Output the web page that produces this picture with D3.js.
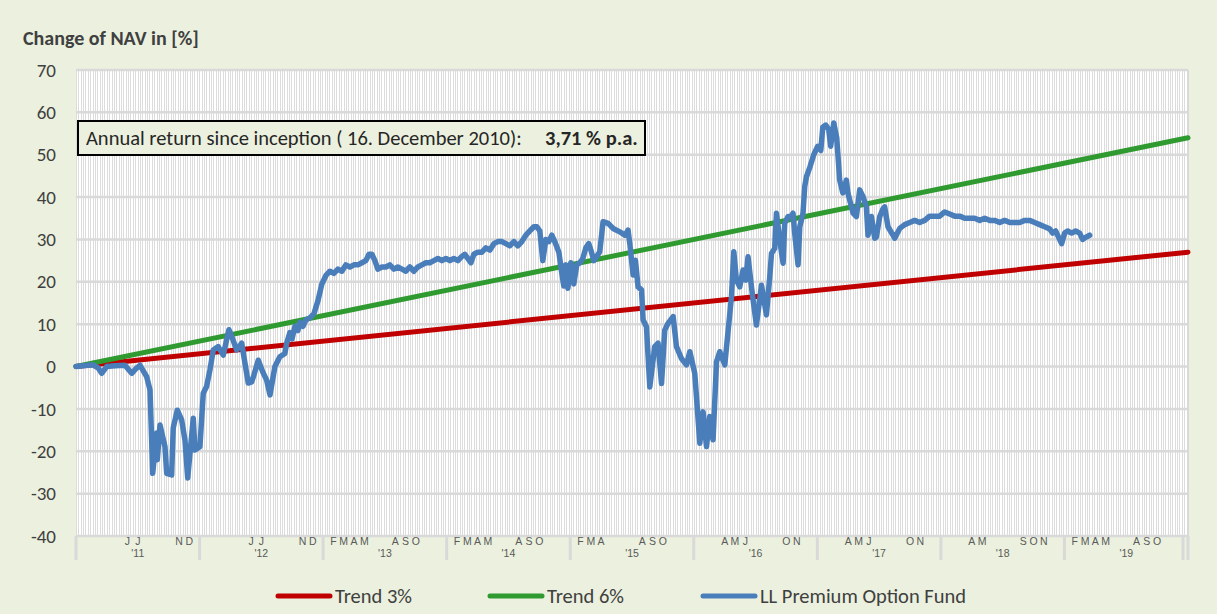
<!DOCTYPE html>
<html>
<head>
<meta charset="utf-8">
<script src="https://cdn.jsdelivr.net/npm/d3@7/dist/d3.min.js"></script>
<style>
  body { margin: 0; background: #EBF1DE; }
  svg { display: block; font-family: Carlito, Lato, sans-serif; }
</style>
</head>
<body>
<div id="chart"></div>
<script>
// ---- data ----
var yTicks = [70, 60, 50, 40, 30, 20, 10, 0, -10, -20, -30, -40];
var years = [2011, 2012, 2013, 2014, 2015, 2016, 2017, 2018, 2019];
var yearLabels = ["'11", "'12", "'13", "'14", "'15", "'16", "'17", "'18", "'19"];
var monthInitials = "JFMAMJJASOND";
// which month initials Excel managed to print for each year (0 = Jan)
var monthsShown = [
  [5, 6, 10, 11],
  [5, 6, 10, 11],
  [1, 2, 3, 4, 7, 8, 9],
  [1, 2, 3, 4, 7, 8, 9],
  [1, 2, 3, 7, 8, 9],
  [3, 4, 5, 9, 10],
  [3, 4, 5, 9, 10],
  [3, 4, 8, 9, 10],
  [1, 2, 3, 4, 7, 8, 9]
];

var trendTime = [2011, 2020];
var trend3 = [0, 27];
var trend6 = [0, 54];

// fund NAV change, time in decimal years
var fundTime = [
  2011.000, 2011.138, 2011.178, 2011.208, 2011.248, 2011.316, 2011.396, 2011.451, 2011.485, 2011.518,
  2011.572, 2011.599, 2011.621, 2011.653, 2011.658, 2011.680, 2011.720, 2011.734, 2011.774, 2011.787,
  2011.820, 2011.855, 2011.882, 2011.904, 2011.949, 2011.963, 2012.003, 2012.030, 2012.057, 2012.084,
  2012.111, 2012.151, 2012.192, 2012.219, 2012.238, 2012.262, 2012.300, 2012.341, 2012.394, 2012.422,
  2012.440, 2012.475, 2012.515, 2012.543, 2012.570, 2012.610, 2012.650, 2012.691, 2012.705, 2012.731,
  2012.748, 2012.772, 2012.796, 2012.812, 2012.837, 2012.861, 2012.893, 2012.926, 2012.958, 2012.990,
  2013.023, 2013.055, 2013.087, 2013.120, 2013.152, 2013.184, 2013.217, 2013.249, 2013.282, 2013.314,
  2013.346, 2013.371, 2013.395, 2013.419, 2013.443, 2013.476, 2013.508, 2013.540, 2013.573, 2013.605,
  2013.638, 2013.670, 2013.702, 2013.735, 2013.767, 2013.799, 2013.832, 2013.864, 2013.896, 2013.929,
  2013.961, 2013.994, 2014.026, 2014.058, 2014.091, 2014.123, 2014.147, 2014.172, 2014.196, 2014.220,
  2014.252, 2014.285, 2014.317, 2014.350, 2014.382, 2014.414, 2014.447, 2014.479, 2014.511, 2014.544,
  2014.576, 2014.608, 2014.641, 2014.673, 2014.706, 2014.730, 2014.754, 2014.778, 2014.803, 2014.827,
  2014.851, 2014.875, 2014.908, 2014.932, 2014.948, 2014.964, 2014.981, 2015.005, 2015.029, 2015.053,
  2015.078, 2015.102, 2015.126, 2015.150, 2015.167, 2015.191, 2015.215, 2015.239, 2015.266, 2015.307,
  2015.347, 2015.401, 2015.442, 2015.468, 2015.482, 2015.509, 2015.528, 2015.549, 2015.577, 2015.590,
  2015.617, 2015.644, 2015.684, 2015.711, 2015.739, 2015.765, 2015.792, 2015.833, 2015.860, 2015.900,
  2015.941, 2015.968, 2016.008, 2016.049, 2016.075, 2016.103, 2016.129, 2016.156, 2016.184, 2016.210,
  2016.251, 2016.305, 2016.324, 2016.345, 2016.372, 2016.399, 2016.421, 2016.439, 2016.467, 2016.480,
  2016.507, 2016.548, 2016.588, 2016.615, 2016.629, 2016.655, 2016.669, 2016.709, 2016.723, 2016.736,
  2016.763, 2016.790, 2016.803, 2016.817, 2016.844, 2016.858, 2016.884, 2016.898, 2016.912, 2016.939,
  2016.971, 2017.003, 2017.028, 2017.044, 2017.068, 2017.092, 2017.108, 2017.133, 2017.157, 2017.181,
  2017.206, 2017.222, 2017.235, 2017.248, 2017.289, 2017.316, 2017.343, 2017.370, 2017.397, 2017.410,
  2017.438, 2017.464, 2017.478, 2017.505, 2017.532, 2017.545, 2017.572, 2017.626, 2017.667, 2017.707,
  2017.748, 2017.788, 2017.828, 2017.869, 2017.909, 2017.950, 2017.990, 2018.031, 2018.071, 2018.112,
  2018.152, 2018.193, 2018.233, 2018.273, 2018.314, 2018.354, 2018.395, 2018.435, 2018.476, 2018.516,
  2018.557, 2018.597, 2018.638, 2018.678, 2018.718, 2018.759, 2018.799, 2018.840, 2018.880, 2018.905,
  2018.929, 2018.953, 2018.977, 2019.002, 2019.026, 2019.058, 2019.091, 2019.123, 2019.147, 2019.172,
  2019.204
];
var fundValue = [
  0, 0.4, -0.3, -1.6, 0, 0.2, 0.3, -1.6, -0.5, 0.3,
  -2.4, -5.5, -25.2, -15.7, -22, -13.8, -18.9, -25.2, -25.6, -14.5,
  -10.3, -12.6, -17.4, -26.3, -12.2, -19.7, -18.9, -6.3, -4.7, -0.8,
  3.9, 4.7, 2.7, 6.3, 8.7, 7, 3.9, 5.5, -3.9, -3.6,
  -2, 1.5, -1.5, -3.2, -6.7, 0, 2.3, 3.1, 5.5, 8,
  6.5, 9.5, 8.5, 10.5, 9.5, 11, 11.5, 12.5, 15.5, 19.5,
  21.5, 22.5, 22, 23, 22.5, 24, 23.5, 24, 24, 24.5,
  25, 26.5, 26.5, 25, 23, 23.5, 23.5, 24, 23, 23.5,
  23, 22.5, 23.5, 22.5, 23.5, 24, 24.5, 24.5, 25, 25.5,
  25, 25.5, 25, 25.5, 25, 26, 26.5, 25.5, 24.5, 26.5,
  27, 27, 28, 27.5, 29, 29.5, 29.5, 29, 28.5, 29.5,
  28.5, 29.5, 31, 32, 33, 33, 32, 25, 30, 29.5,
  31, 29.5, 27, 22, 19, 24, 18.5, 24.5, 19.5, 24,
  24.5, 25.5, 28, 29, 27.5, 25, 26, 27.1, 34.2, 33.8,
  32.6, 31.8, 31, 32.2, 29.1, 21.6, 25.1, 18.8, 18.1, 11,
  9.4, -4.8, 4.7, 5.5, -4, 8.6, 10.2, 11.8, 4.7, 1.9,
  0.4, 3.5, -1.6, -18.1, -10.7, -18.9, -11.8, -17.3, 1.1, 3.5,
  0.4, 16.5, 27.1, 20.4, 18.8, 22.8, 20.4, 25.9, 18.8, 15.7,
  9.8, 19.2, 12.2, 21.2, 26.7, 27.9, 36.2, 27.1, 24.4, 33.8,
  35.4, 35.4, 36.2, 31.4, 24, 33, 36.2, 42.5, 44.8, 47,
  50, 52, 51, 56.5, 57, 56, 52, 57.5, 54, 44,
  41, 42.5, 44, 40.9, 36.2, 35.4, 41.7, 40.1, 37.7, 31,
  35.4, 30.3, 30.6, 35.4, 37.3, 37.7, 33, 30.3, 32.6, 33.5,
  34, 34.5, 34, 34.5, 35.5, 35.5, 35.5, 36.5, 36, 35.5,
  35.5, 35, 35, 35, 34.5, 35, 34.5, 34.5, 34, 34.5,
  34, 34, 34, 34.5, 34.5, 34, 33.5, 33, 32.5, 31.5,
  32, 30.5, 29, 31.5, 32, 31.5, 32, 31.5, 30, 30.5,
  31
];

var legendNames = ["Trend 3%", "Trend 6%", "LL Premium Option Fund"];
var seriesColors = ["#C00000", "#2F9A30", "#4A7EBB"];

// ---- chart ----
(function() {
  var width = 1217, height = 614;
  var plotLeft = 76, plotRight = 1188, plotTop = 70, plotBottom = 536;

  var svg = d3.select("#chart").append("svg")
    .attr("width", width)
    .attr("height", height);

  svg.append("rect").attr("width", width).attr("height", height).attr("fill", "#EBF1DE");

  var x = d3.scaleLinear().domain([2011, 2020]).range([plotLeft, plotRight]);
  var y = d3.scaleLinear().domain([-40, 70]).range([plotBottom, plotTop]);

  // plot area
  svg.append("rect")
    .attr("x", plotLeft).attr("y", plotTop)
    .attr("width", plotRight - plotLeft).attr("height", plotBottom - plotTop)
    .attr("fill", "#ffffff");

  // weekly vertical gridlines
  var weeks = d3.range(2011, 2020, 7 / 365.25);
  svg.append("g").selectAll("line")
    .data(weeks)
    .enter().append("line")
    .attr("x1", function(d) { return Math.round(x(d)) + 0.5; })
    .attr("x2", function(d) { return Math.round(x(d)) + 0.5; })
    .attr("y1", plotTop).attr("y2", plotBottom)
    .attr("stroke", "#DCDCDC")
    .attr("stroke-width", 1);

  // horizontal gridlines
  svg.append("g").selectAll("line")
    .data(yTicks)
    .enter().append("line")
    .attr("x1", plotLeft).attr("x2", plotRight)
    .attr("y1", function(d) { return y(d); })
    .attr("y2", function(d) { return y(d); })
    .attr("stroke", "#D9D9D9")
    .attr("stroke-width", 2.5);

  svg.append("line")
    .attr("x1", plotRight).attr("x2", plotRight).attr("y1", plotTop).attr("y2", plotBottom)
    .attr("stroke", "#D9D9D9").attr("stroke-width", 2);

  // y labels
  svg.append("g").selectAll("text")
    .data(yTicks)
    .enter().append("text")
    .attr("x", 56)
    .attr("y", function(d) { return y(d); })
    .attr("dy", "0.35em")
    .attr("text-anchor", "end")
    .attr("font-size", 19)
    .attr("fill", "#404040")
    .text(function(d) { return d; });

  // category axis: year separators, month initials, year labels
  var sepYears = years.concat([2020]);
  svg.append("g").selectAll("line")
    .data(sepYears)
    .enter().append("line")
    .attr("x1", function(d) { return x(d); })
    .attr("x2", function(d) { return x(d); })
    .attr("y1", plotBottom).attr("y2", 560)
    .attr("stroke", "#D9D9D9")
    .attr("stroke-width", 3);
  svg.append("line")
    .attr("x1", x(2020) - 5).attr("x2", x(2020) - 5).attr("y1", plotBottom).attr("y2", 560)
    .attr("stroke", "#D9D9D9").attr("stroke-width", 3);

  var monthData = [];
  years.forEach(function(yr, i) {
    monthsShown[i].forEach(function(m) {
      monthData.push({ t: yr + m / 12, letter: monthInitials[m] });
    });
  });
  svg.append("g").selectAll("text")
    .data(monthData)
    .enter().append("text")
    .attr("x", function(d) { return x(d.t); })
    .attr("y", 545)
    .attr("text-anchor", "middle")
    .attr("font-family", "Liberation Sans, Arial, sans-serif")
    .attr("font-size", 10.5)
    .attr("fill", "#595959")
    .text(function(d) { return d.letter; });

  svg.append("g").selectAll("text")
    .data(years)
    .enter().append("text")
    .attr("x", function(d) { return x(d + 0.5); })
    .attr("y", 557)
    .attr("text-anchor", "middle")
    .attr("font-family", "Liberation Sans, Arial, sans-serif")
    .attr("font-size", 10.5)
    .attr("fill", "#595959")
    .text(function(d, i) { return yearLabels[i]; });

  // series
  var line = d3.line()
    .x(function(d) { return x(d[0]); })
    .y(function(d) { return y(d[1]); });

  var seriesData = [
    d3.zip(trendTime, trend3),
    d3.zip(trendTime, trend6),
    d3.zip(fundTime, fundValue)
  ];

  svg.append("g").selectAll("path")
    .data(seriesData)
    .enter().append("path")
    .attr("d", line)
    .attr("fill", "none")
    .attr("stroke", function(d, i) { return seriesColors[i]; })
    .attr("stroke-width", function(d, i) { return i === 2 ? 5.5 : 5; })
    .attr("stroke-linejoin", "round")
    .attr("stroke-linecap", "round");

  // annotation box
  svg.append("rect")
    .attr("x", 78).attr("y", 121)
    .attr("width", 567).attr("height", 34)
    .attr("fill", "#EBF1DE")
    .attr("stroke", "#000000")
    .attr("stroke-width", 2);
  var note = svg.append("text")
    .attr("x", 86).attr("y", 145)
    .attr("font-size", 20.5)
    .attr("fill", "#262626");
  note.append("tspan").text("Annual return since inception ( 16. December 2010):");
  note.append("tspan").attr("x", 545).attr("font-weight", "bold").text("3,71 % p.a.");

  // title
  svg.append("text")
    .attr("x", 23).attr("y", 45)
    .attr("font-size", 20)
    .attr("font-weight", "bold")
    .attr("fill", "#404040")
    .text("Change of NAV in [%]");

  // legend
  var legendX = [278, 490, 703];
  var legend = svg.append("g").selectAll("g")
    .data(legendNames)
    .enter().append("g")
    .attr("transform", function(d, i) { return "translate(" + legendX[i] + ",596)"; });
  legend.append("line")
    .attr("x1", 0).attr("x2", 52)
    .attr("stroke", function(d, i) { return seriesColors[i]; })
    .attr("stroke-width", 5)
    .attr("stroke-linecap", "round");
  legend.append("text")
    .attr("x", 57)
    .attr("dy", "0.35em")
    .attr("font-size", 20.5)
    .attr("fill", "#404040")
    .text(function(d) { return d; });
})();
</script>
</body>
</html>
